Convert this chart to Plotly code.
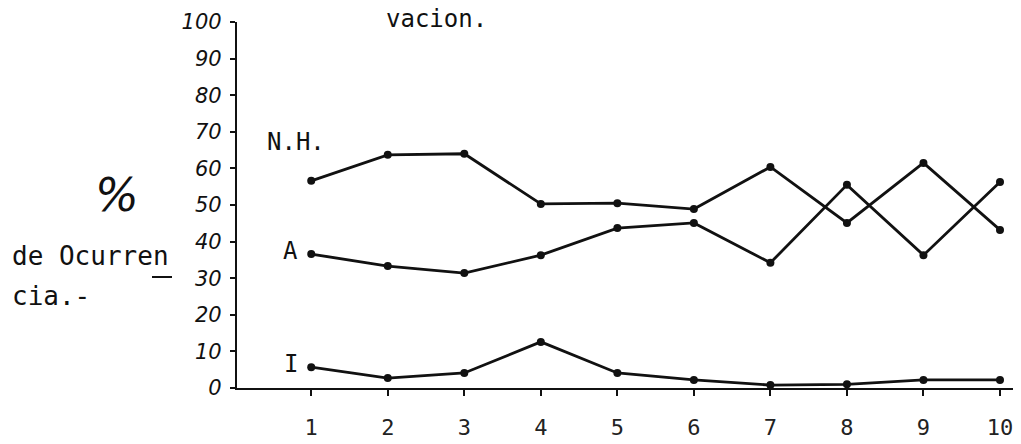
import plotly.graph_objects as go

# ---- data ----
x_vals = [1, 2, 3, 4, 5, 6, 7, 8, 9, 10]
nh_vals = [56.6, 63.7, 64.0, 50.3, 50.5, 48.9, 60.4, 45.1, 61.5, 43.2]
a_vals = [36.6, 33.3, 31.4, 36.3, 43.7, 45.1, 34.2, 55.5, 36.3, 56.3]
i_vals = [5.7, 2.7, 4.1, 12.6, 4.1, 2.2, 0.8, 1.0, 2.2, 2.2]
y_ticks = [0, 10, 20, 30, 40, 50, 60, 70, 80, 90, 100]
x_ticks = [1, 2, 3, 4, 5, 6, 7, 8, 9, 10]

MONO = "DejaVu Sans Mono"
INK = "#111111"

# the page body adds an 8px offset; the figure is sized to fill the rest
OFF = 8
W, H = 1021 - OFF, 444 - OFF

fig = go.Figure()
for name, vals in [("N.H.", nh_vals), ("A", a_vals), ("I", i_vals)]:
    fig.add_trace(go.Scatter(
        x=x_vals, y=vals, mode="lines+markers", name=name,
        line=dict(color=INK, width=2.8),
        marker=dict(color=INK, size=8),
        showlegend=False, cliponaxis=False,
    ))

# plot area in page pixels: left 237, right 1013, top 22, bottom 388
L, R, T, B = 237 - OFF, 1013 - OFF, 22 - OFF, 388 - OFF
def px(xp):
    return (xp - OFF - L) / (R - L)
def py(yp):
    return (B - (yp - OFF)) / (B - T)

fig.update_layout(
    width=W, height=H,
    margin=dict(l=L, r=W - R, t=T, b=H - B, pad=0),
    paper_bgcolor="white", plot_bgcolor="white",
    xaxis=dict(
        range=[0.03, 10.17], tickvals=x_ticks, ticktext=[str(t) for t in x_ticks],
        showgrid=False, zeroline=False, showline=True, linecolor=INK, linewidth=2.2,
        ticks="outside", ticklen=6, tickwidth=1.5, tickcolor=INK,
        tickfont=dict(family=MONO, size=22, color="#222222"),
        ticklabelstandoff=12, automargin=False,
    ),
    yaxis=dict(
        range=[0, 100], tickvals=y_ticks, ticktext=[str(t) for t in y_ticks],
        showgrid=False, zeroline=False, showline=True, linecolor=INK, linewidth=2.2,
        ticks="outside", ticklen=5, tickwidth=1.5, tickcolor=INK,
        tickfont=dict(family="DejaVu Sans", size=21, color=INK, style="italic"),
        ticklabelstandoff=4, automargin=False,
    ),
)

def note(text, xp, yp, size, anchor="center", family=MONO, style="normal"):
    fig.add_annotation(
        text=text, x=px(xp), y=py(yp), xref="paper", yref="paper",
        xanchor=anchor, yanchor="middle", showarrow=False,
        font=dict(family=family, size=size, color=INK, style=style),
    )

note("vacion.", 436, 19, 24)
note("N.H.", 296, 142, 24)
note("A", 290, 251, 24)
note("I", 291, 364, 24)
note("%", 117, 195, 46, family="DejaVu Sans", style="italic")
note("de Ocurren", 10, 256, 26, anchor="left")
note("cia.-", 10, 296, 26, anchor="left")

# underline under the final "n" of "Ocurren"
fig.add_shape(type="line", xref="paper", yref="paper",
              x0=px(152), x1=px(172), y0=py(277), y1=py(277),
              line=dict(color=INK, width=2))

fig.write_html("out.html")
